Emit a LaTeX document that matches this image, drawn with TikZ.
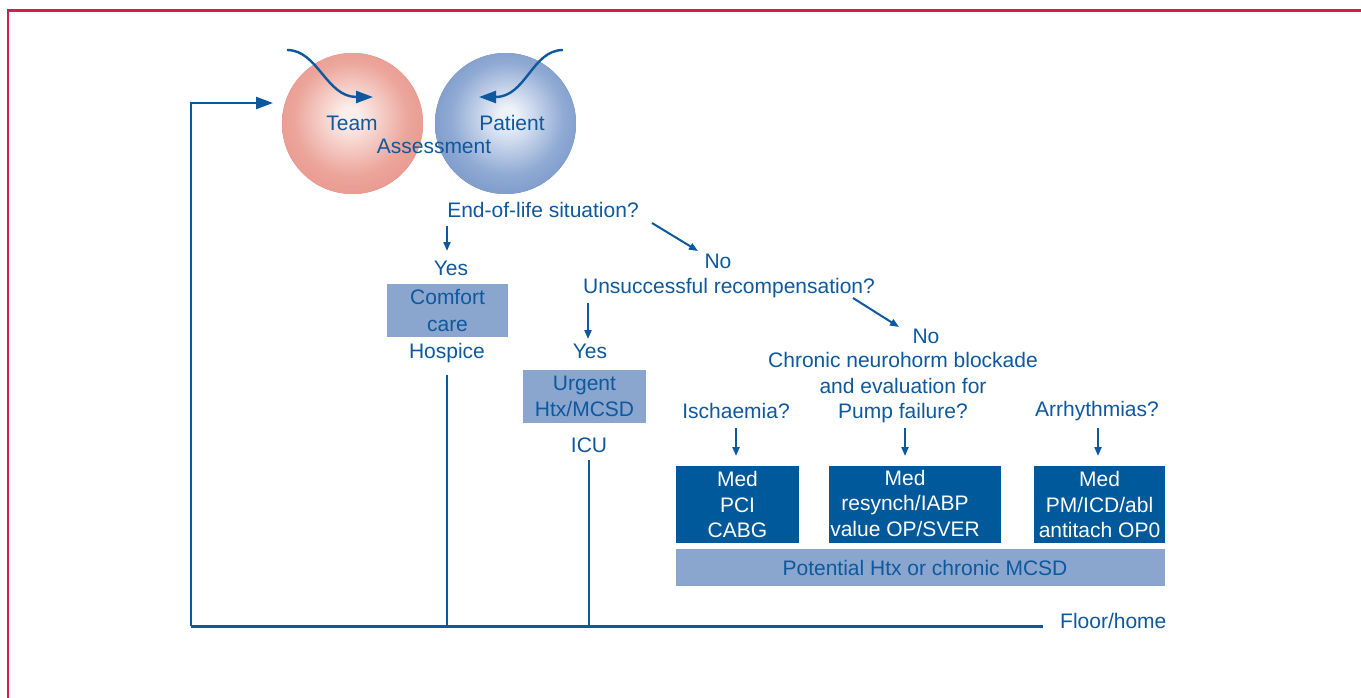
\documentclass[tikz,border=0pt]{standalone}
\usepackage{fontspec}
\setmainfont{Liberation Sans}
\usetikzlibrary{arrows.meta}
\definecolor{tblue}{RGB}{14,88,158}
\definecolor{dbox}{RGB}{0,89,155}
\definecolor{lbox}{RGB}{139,166,206}
\definecolor{framered}{RGB}{214,28,78}
\definecolor{redout}{RGB}{226,124,114}
\definecolor{redmid}{RGB}{236,166,156}
\definecolor{redin}{RGB}{252,238,234}
\definecolor{blueout}{RGB}{82,120,180}
\definecolor{bluemid}{RGB}{144,170,212}
\definecolor{bluein}{RGB}{238,242,250}
\pgfdeclareradialshading{teamsh}{\pgfpoint{-1bp}{3bp}}{color(0bp)=(redin); color(3bp)=(redin); color(20bp)=(redmid); color(44bp)=(redout); color(50bp)=(redout)}
\pgfdeclareradialshading{patsh}{\pgfpoint{1bp}{3bp}}{color(0bp)=(bluein); color(3bp)=(bluein); color(20bp)=(bluemid); color(44bp)=(blueout); color(50bp)=(blueout)}
\tikzset{
  txt/.style={font=\fontsize{21}{25.5}\selectfont, text=tblue, inner sep=0pt, align=center},
  ball/.style={circle, minimum size=141pt, inner sep=0pt},
  lightbox/.style={txt, fill=lbox},
  darkbox/.style={txt, fill=dbox, text=white},
  flow/.style={draw=tblue, line width=2pt},
  baseline/.style={draw=tblue, line width=3pt},
  darr/.style={draw=tblue, line width=2pt, -{Triangle[length=9pt,width=7pt]}},
  bigarr/.style={draw=tblue, line width=2.4pt, -{Triangle[length=17pt,width=12pt]}},
}
\begin{document}
\begin{tikzpicture}[x=1pt,y=-1pt]
\useasboundingbox (0,0) rectangle (1361,698);
% frame
\draw[framered, line width=2.7pt] (8,705) -- (8,10.3) -- (1370,10.3);

% circles
\node[ball, preaction={fill=redout}, shading=teamsh] (team) at (352.5,123.5) {};
\node[ball, preaction={fill=blueout}, shading=patsh] (patient) at (505.5,123.5) {};
\node[txt] (teamt) at (352,123) {Team};
\node[txt] (patt) at (512,123) {Patient};
\node[txt] (assess) at (434,146) {Assessment};

% curved input arrows
\coordinate (tin) at (287,50);
\coordinate (tend) at (373,97);
\coordinate (pin) at (563,50);
\coordinate (pend) at (479,97);
\draw[bigarr] (tin) .. controls (318,50) and (326,97) .. (tend);
\draw[bigarr] (pin) .. controls (532,50) and (526,97) .. (pend);

% decision texts
\node[txt] (eol) at (543,210) {End-of-life situation?};
\node[txt] (yes1) at (451,268) {Yes};
\node[lightbox, minimum width=121pt, minimum height=53pt] (comfort) at (447.5,310.5) {Comfort\\[1pt]care};
\node[txt] (hospice) at (447,353) {Hospice};
\node[txt] (no1) at (718,261) {No};
\node[txt] (unsucc) at (729,288) {Unsuccessful recompensation?};
\node[txt] (yes2) at (590,351) {Yes};
\node[lightbox, minimum width=123pt, minimum height=53pt] (urgent) at (584.5,396.5) {Urgent\\Htx/MCSD};
\node[txt] (icu) at (589,445) {ICU};
\node[txt] (no2) at (926,336) {No};
\node[txt] (chronic) at (903,388) {Chronic neurohorm blockade\\and evaluation for\\Pump failure?};
\node[txt] (isch) at (736,411) {Ischaemia?};
\node[txt] (arrh) at (1097,411) {Arrhythmias?};

% treatment boxes
\node[darkbox, minimum width=123pt, minimum height=77pt] (ischbox) at (737.5,504.5) {Med\\PCI\\CABG};
\node[fill=dbox, minimum width=172pt, minimum height=77pt, inner sep=0pt] (pumpbox) at (915,504.5) {};
\node[darkbox] (pumptxt) at (905,503) {Med\\resynch/IABP\\value OP/SVER};
\node[darkbox, minimum width=131pt, minimum height=77pt] (arrhbox) at (1099.5,504.5) {Med\\PM/ICD/abl\\antitach OP0};
\node[lightbox, minimum width=489pt, minimum height=37pt] (potential) at (920.5,567.5) {\hspace*{9pt}Potential Htx or chronic MCSD};

% arrows
\coordinate (a1s) at (447,226); \coordinate (a1e) at (447,251);
\coordinate (a2s) at (652,223); \coordinate (a2e) at (698,251);
\coordinate (a3s) at (588,303); \coordinate (a3e) at (588,339);
\coordinate (a4s) at (853,298); \coordinate (a4e) at (899,327);
\coordinate (a5s) at (736,428); \coordinate (a5e) at (736,456);
\coordinate (a6s) at (905,428); \coordinate (a6e) at (905,456);
\coordinate (a7s) at (1098,428); \coordinate (a7e) at (1098,456);
\draw[darr] (a1s) -- (a1e);
\draw[darr] (a2s) -- (a2e);
\draw[darr] (a3s) -- (a3e);
\draw[darr] (a4s) -- (a4e);
\draw[darr] (a5s) -- (a5e);
\draw[darr] (a6s) -- (a6e);
\draw[darr] (a7s) -- (a7e);

% return lines
\coordinate (bl) at (191,626);
\coordinate (br) at (1043,626);
\coordinate (fbtip) at (273,103);
\coordinate (htop) at (447,375);
\coordinate (itop) at (589,460);
\draw[flow] (htop) -- (htop |- bl);
\draw[flow] (itop) -- (itop |- bl);
\draw[bigarr, line width=2.2pt] (bl) |- (fbtip);
\draw[baseline] (bl) -- (br);
\node[txt, anchor=west] (floor) at (1060,621) {Floor/home};
\end{tikzpicture}
\end{document}
